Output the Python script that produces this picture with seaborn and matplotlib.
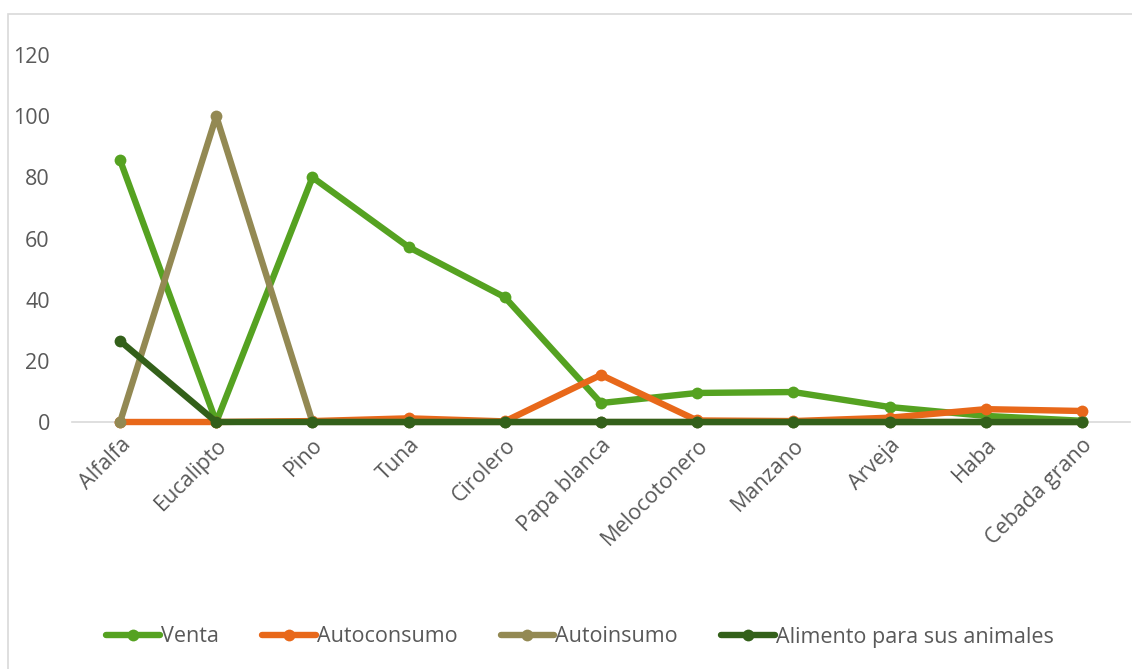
import matplotlib
matplotlib.use("Agg")
import matplotlib.pyplot as plt
from matplotlib.lines import Line2D
from matplotlib.patches import Rectangle
import seaborn as sns
import pandas as pd

# Categories and series values
cultivos = ["Alfalfa", "Eucalipto", "Pino", "Tuna", "Cirolero", "Papa blanca",
            "Melocotonero", "Manzano", "Arveja", "Haba", "Cebada grano"]
venta = [85.6, 0.0, 80.0, 57.2, 40.8, 6.2, 9.5, 9.8, 4.9, 2.0, 0.4]
autoconsumo = [0.0, 0.0, 0.3, 1.2, 0.2, 15.4, 0.5, 0.3, 1.4, 4.2, 3.6]
autoinsumo = [0.0, 100.0, 0.0, 0.0, 0.0, 0.0, 0.0, 0.0, 0.0, 0.0, 0.0]
alimento = [26.5, 0.0, 0.0, 0.0, 0.0, 0.0, 0.0, 0.0, 0.0, 0.0, 0.0]

series_names = ["Venta", "Autoconsumo", "Autoinsumo", "Alimento para sus animales"]
series_values = [venta, autoconsumo, autoinsumo, alimento]
colors = ["#55A221", "#E8681A", "#938953", "#33601A"]
y_ticks = [0, 20, 40, 60, 80, 100, 120]

sns.set_theme(style="white")
plt.rcParams["font.family"] = ["Open Sans", "DejaVu Sans"]
text_color = "#595959"
fs = 15.5

fig = plt.figure(figsize=(11.32, 6.69), dpi=100)
W, H = 1132, 669
ax = fig.add_axes([72 / W, (H - 422) / H, (1130 - 72) / W, (422 - 55) / H])

x_pos = list(range(len(cultivos)))
for name, vals, col in zip(series_names, series_values, colors):
    df = pd.DataFrame({"x": x_pos, "y": vals})
    sns.lineplot(data=df, x="x", y="y", ax=ax, color=col, linewidth=4.6,
                 marker="o", markersize=8.5, markeredgewidth=0, sort=False,
                 solid_capstyle="round", label=name, legend=False)

ax.set_xlim(-0.5, len(cultivos) - 0.5)
ax.set_ylim(0, 120)
ax.set_yticks(y_ticks)
ax.set_yticklabels([str(t) for t in y_ticks])
ax.set_xticks(x_pos)
ax.set_xticklabels(cultivos, rotation=45, ha="right", rotation_mode="anchor")
ax.tick_params(axis="y", length=0, pad=16, labelsize=fs, labelcolor=text_color)
ax.tick_params(axis="x", length=0, pad=9, labelsize=fs, labelcolor=text_color)
ax.set_xlabel("")
ax.set_ylabel("")
for s in ["top", "right", "left"]:
    ax.spines[s].set_visible(False)
ax.spines["bottom"].set_color("#D9D9D9")
ax.spines["bottom"].set_linewidth(1.2)
ax.spines["bottom"].set_zorder(0)
for ln in ax.lines:
    ln.set_clip_on(False)

# Chart border
fig.patches.append(Rectangle((8 / W, -0.05), 1.2, (H - 14) / H + 0.05,
                             transform=fig.transFigure, fill=False,
                             edgecolor="#D9D9D9", linewidth=1.2))

handles = [Line2D([0], [0], color=c, linewidth=4.6, marker="o", markersize=8.5,
                  markeredgewidth=0, solid_capstyle="round")
           for c in colors]
fig.legend(handles, series_names, loc="center", bbox_to_anchor=(580 / W, 1 - 637 / H),
           ncol=4, frameon=False, fontsize=fs, labelcolor=text_color,
           handlelength=2.5, handletextpad=0.05, columnspacing=2.0)

fig.savefig("out.png", dpi=100)
